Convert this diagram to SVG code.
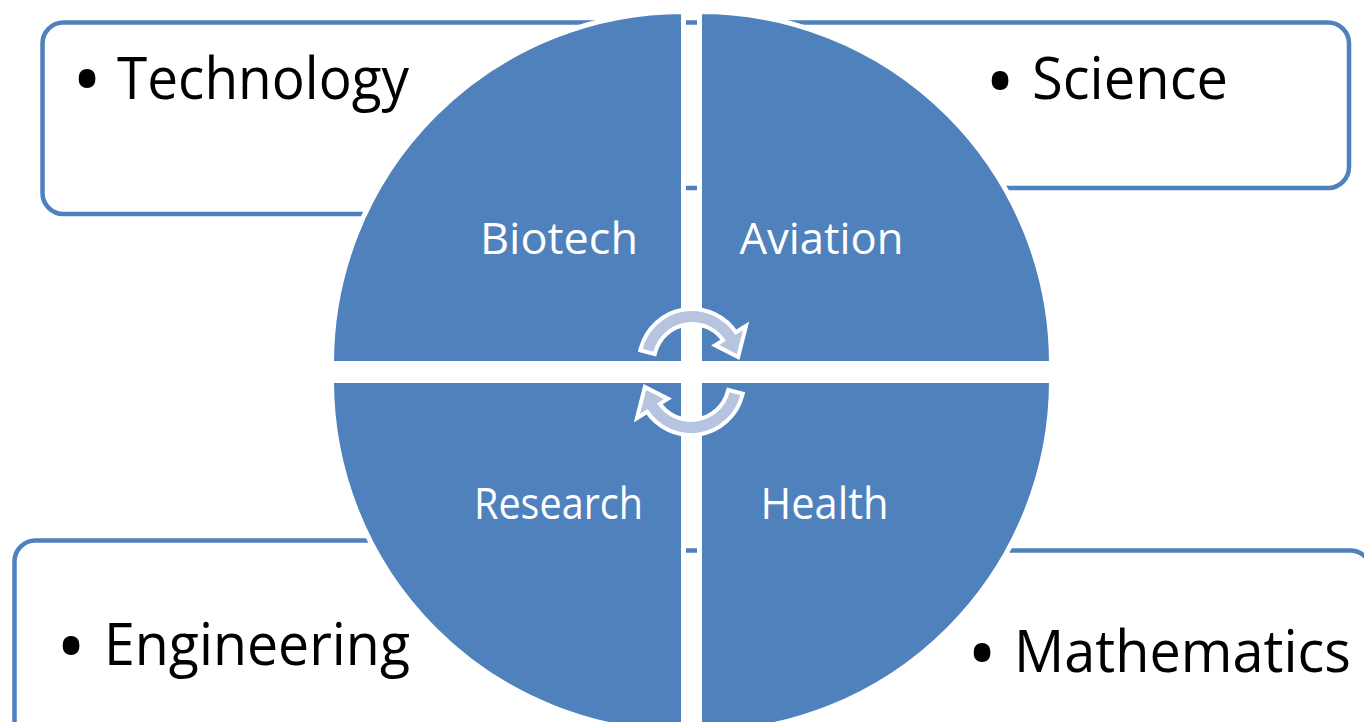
<svg xmlns="http://www.w3.org/2000/svg" width="1364" height="722" viewBox="0 0 1364 722">
  <style>
    .box { fill: #FFFFFF; stroke: #4F81BD; stroke-width: 4.5; }
    .quad { fill: #4F81BD; stroke: #FFFFFF; stroke-width: 5; }
    .qlabel { font-family: "Open Sans", "Noto Sans", sans-serif; font-size: 43px; fill: #FFFFFF; text-anchor: middle; }
    .item { font-family: "Open Sans", "Noto Sans", sans-serif; font-size: 58px; fill: #000000; }
    .bullet { font-family: "Open Sans", "Noto Sans", sans-serif; font-size: 80px; fill: #000000; text-anchor: middle; }
    .cyc { fill: #B6C4DF; stroke: #FFFFFF; stroke-width: 8; stroke-linejoin: miter; paint-order: stroke; }
  </style>

  <!-- corner boxes (sit behind the circle) -->
  <g id="box-technology">
    <rect class="box" x="42.5" y="22.5" width="630" height="191.5" rx="21" ry="21"/>
    <text class="bullet" x="87" y="108">•</text>
    <text class="item" x="117" y="98.5" textLength="292" lengthAdjust="spacingAndGlyphs">Technology</text>
  </g>
  <g id="box-science">
    <rect class="box" x="600" y="22.5" width="749" height="165.5" rx="21" ry="21"/>
    <text class="bullet" x="1000" y="110">•</text>
    <text class="item" x="1032" y="98.5" textLength="196" lengthAdjust="spacingAndGlyphs">Science</text>
  </g>
  <g id="box-engineering">
    <rect class="box" x="14.5" y="540.5" width="660" height="230" rx="21" ry="21"/>
    <text class="bullet" x="71" y="675">•</text>
    <text class="item" x="104" y="665" textLength="306" lengthAdjust="spacingAndGlyphs">Engineering</text>
  </g>
  <g id="box-mathematics">
    <rect class="box" x="600" y="550.5" width="772" height="230" rx="22" ry="22"/>
    <text class="bullet" x="982" y="682">•</text>
    <text class="item" x="1014" y="672" textLength="337" lengthAdjust="spacingAndGlyphs">Mathematics</text>
  </g>

  <!-- four quarter segments of the central circle -->
  <g id="quad-biotech">
    <path class="quad" d="M683.5,363.5 L331.5,363.5 A352,352 0 0 1 683.5,11.5 Z"/>
    <text class="qlabel" x="559" y="253.5" textLength="158" lengthAdjust="spacingAndGlyphs">Biotech</text>
  </g>
  <g id="quad-aviation">
    <path class="quad" d="M699.5,363.5 L699.5,11.5 A352,352 0 0 1 1051.5,363.5 Z"/>
    <text class="qlabel" x="821.5" y="253.5" textLength="164" lengthAdjust="spacingAndGlyphs">Aviation</text>
  </g>
  <g id="quad-research">
    <path class="quad" d="M683.5,380.5 L683.5,732.5 A352,352 0 0 1 331.5,380.5 Z"/>
    <text class="qlabel" x="558.5" y="518.5" textLength="169" lengthAdjust="spacingAndGlyphs">Research</text>
  </g>
  <g id="quad-health">
    <path class="quad" d="M699.5,380.5 L1051.5,380.5 A352,352 0 0 1 699.5,732.5 Z"/>
    <text class="qlabel" x="824.5" y="518.5" textLength="128" lengthAdjust="spacingAndGlyphs">Health</text>
  </g>

  <!-- circular cycle arrows in the middle -->
  <g id="cycle-arrows">
    <path id="cycle-top" class="cyc" d="M642.74,348.80 A51,51 0 0 1 735.25,334.98 L742.88,330.21 L736.81,354.10 L719.14,345.04 L725.92,340.80 A40,40 0 0 0 653.36,351.65 Z"/>
    <path id="cycle-bottom" class="cyc" transform="rotate(180 691.5 372)" d="M642.74,348.80 A51,51 0 0 1 735.25,334.98 L742.88,330.21 L736.81,354.10 L719.14,345.04 L725.92,340.80 A40,40 0 0 0 653.36,351.65 Z"/>
  </g>
</svg>
